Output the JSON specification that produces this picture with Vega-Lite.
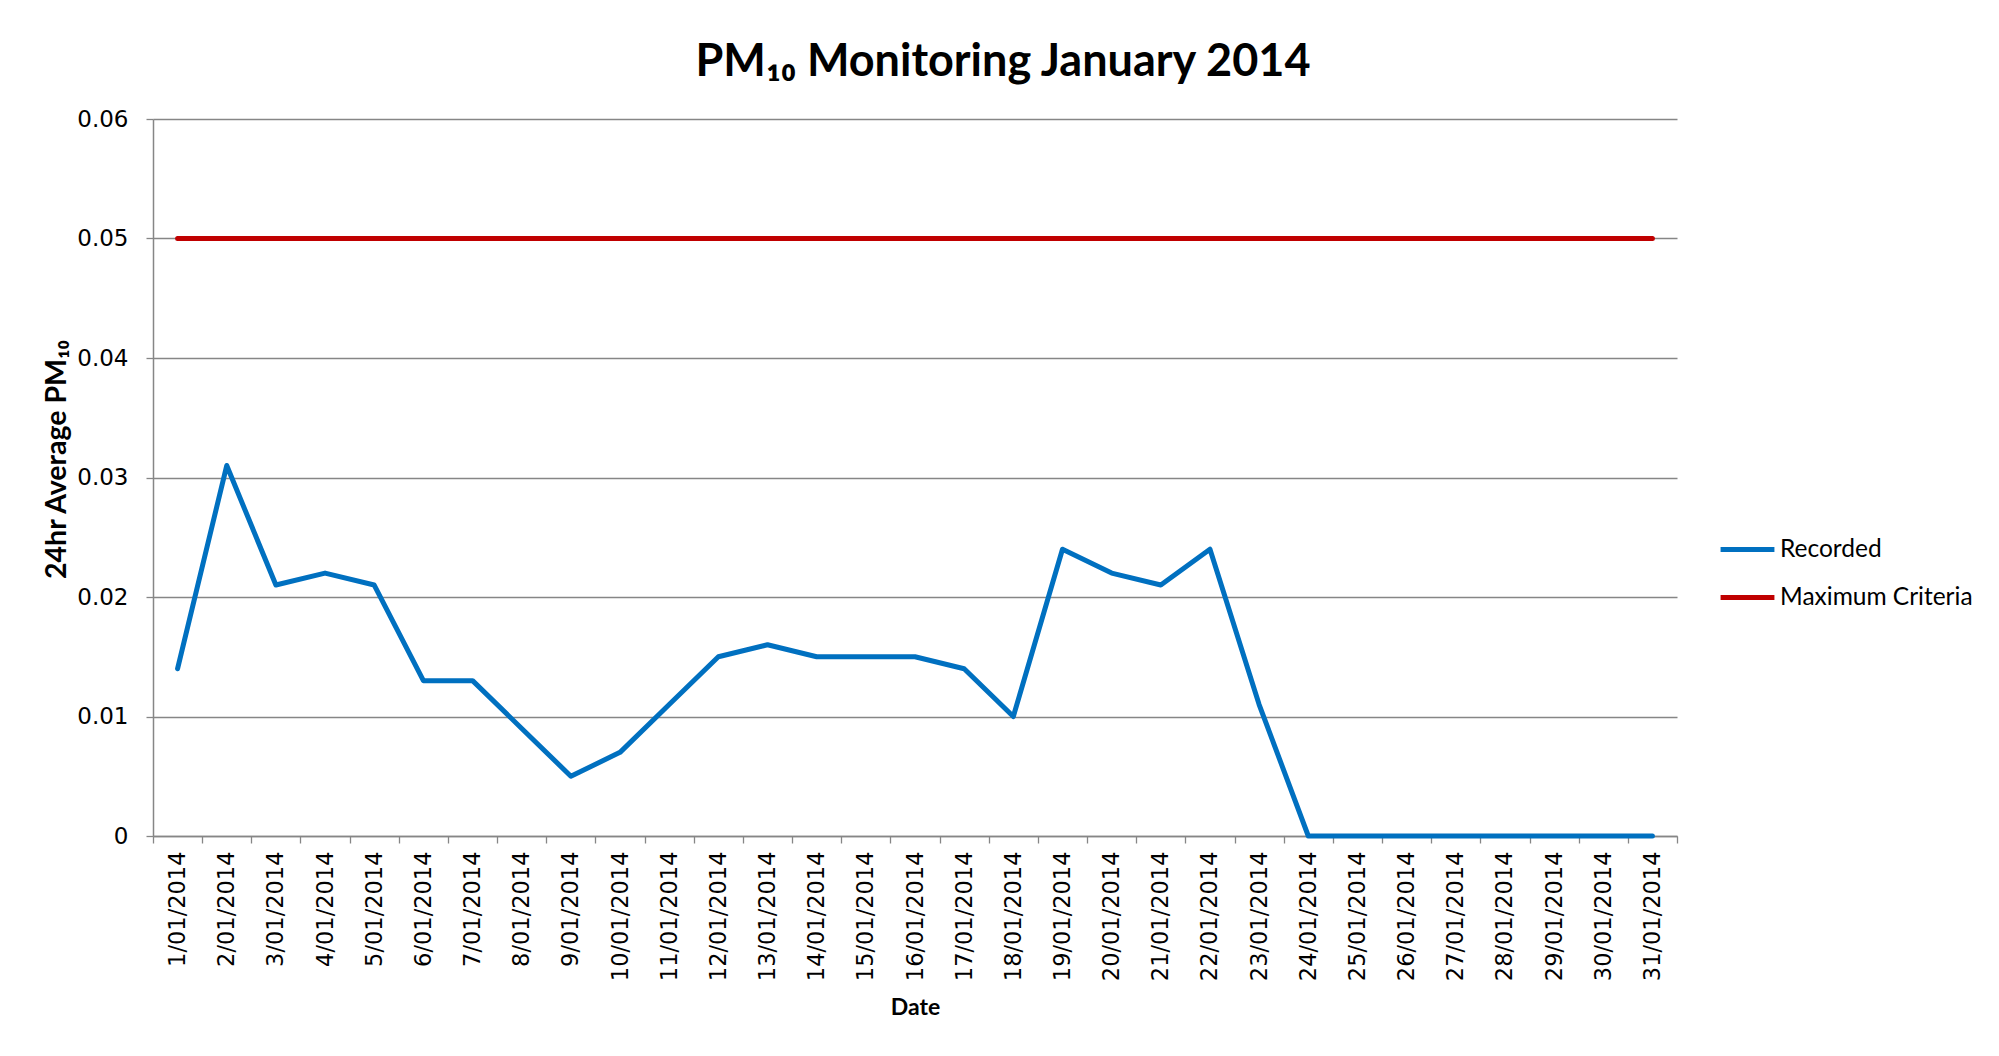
{
  "$schema": "https://vega.github.io/schema/vega-lite/v6.json",
  "width": 1524,
  "height": 717,
  "autosize": {"type": "none"},
  "padding": {"left": 153, "top": 119, "right": 322, "bottom": 220},
  "background": "white",
  "title": {
    "text": "PM₁₀ Monitoring January 2014",
    "font": "Lato",
    "fontSize": 45,
    "fontWeight": "bold",
    "color": "#000000",
    "anchor": "middle",
    "dx": 88,
    "offset": 23
  },
  "data": {
    "values": [
      {"date": "1/01/2014", "series": "Recorded", "value": 0.014},
      {"date": "2/01/2014", "series": "Recorded", "value": 0.031},
      {"date": "3/01/2014", "series": "Recorded", "value": 0.021},
      {"date": "4/01/2014", "series": "Recorded", "value": 0.022},
      {"date": "5/01/2014", "series": "Recorded", "value": 0.021},
      {"date": "6/01/2014", "series": "Recorded", "value": 0.013},
      {"date": "7/01/2014", "series": "Recorded", "value": 0.013},
      {"date": "8/01/2014", "series": "Recorded", "value": 0.009},
      {"date": "9/01/2014", "series": "Recorded", "value": 0.005},
      {"date": "10/01/2014", "series": "Recorded", "value": 0.007},
      {"date": "11/01/2014", "series": "Recorded", "value": 0.011},
      {"date": "12/01/2014", "series": "Recorded", "value": 0.015},
      {"date": "13/01/2014", "series": "Recorded", "value": 0.016},
      {"date": "14/01/2014", "series": "Recorded", "value": 0.015},
      {"date": "15/01/2014", "series": "Recorded", "value": 0.015},
      {"date": "16/01/2014", "series": "Recorded", "value": 0.015},
      {"date": "17/01/2014", "series": "Recorded", "value": 0.014},
      {"date": "18/01/2014", "series": "Recorded", "value": 0.010},
      {"date": "19/01/2014", "series": "Recorded", "value": 0.024},
      {"date": "20/01/2014", "series": "Recorded", "value": 0.022},
      {"date": "21/01/2014", "series": "Recorded", "value": 0.021},
      {"date": "22/01/2014", "series": "Recorded", "value": 0.024},
      {"date": "23/01/2014", "series": "Recorded", "value": 0.011},
      {"date": "24/01/2014", "series": "Recorded", "value": 0},
      {"date": "25/01/2014", "series": "Recorded", "value": 0},
      {"date": "26/01/2014", "series": "Recorded", "value": 0},
      {"date": "27/01/2014", "series": "Recorded", "value": 0},
      {"date": "28/01/2014", "series": "Recorded", "value": 0},
      {"date": "29/01/2014", "series": "Recorded", "value": 0},
      {"date": "30/01/2014", "series": "Recorded", "value": 0},
      {"date": "31/01/2014", "series": "Recorded", "value": 0},
      {"date": "1/01/2014", "series": "Maximum Criteria", "value": 0.05},
      {"date": "2/01/2014", "series": "Maximum Criteria", "value": 0.05},
      {"date": "3/01/2014", "series": "Maximum Criteria", "value": 0.05},
      {"date": "4/01/2014", "series": "Maximum Criteria", "value": 0.05},
      {"date": "5/01/2014", "series": "Maximum Criteria", "value": 0.05},
      {"date": "6/01/2014", "series": "Maximum Criteria", "value": 0.05},
      {"date": "7/01/2014", "series": "Maximum Criteria", "value": 0.05},
      {"date": "8/01/2014", "series": "Maximum Criteria", "value": 0.05},
      {"date": "9/01/2014", "series": "Maximum Criteria", "value": 0.05},
      {"date": "10/01/2014", "series": "Maximum Criteria", "value": 0.05},
      {"date": "11/01/2014", "series": "Maximum Criteria", "value": 0.05},
      {"date": "12/01/2014", "series": "Maximum Criteria", "value": 0.05},
      {"date": "13/01/2014", "series": "Maximum Criteria", "value": 0.05},
      {"date": "14/01/2014", "series": "Maximum Criteria", "value": 0.05},
      {"date": "15/01/2014", "series": "Maximum Criteria", "value": 0.05},
      {"date": "16/01/2014", "series": "Maximum Criteria", "value": 0.05},
      {"date": "17/01/2014", "series": "Maximum Criteria", "value": 0.05},
      {"date": "18/01/2014", "series": "Maximum Criteria", "value": 0.05},
      {"date": "19/01/2014", "series": "Maximum Criteria", "value": 0.05},
      {"date": "20/01/2014", "series": "Maximum Criteria", "value": 0.05},
      {"date": "21/01/2014", "series": "Maximum Criteria", "value": 0.05},
      {"date": "22/01/2014", "series": "Maximum Criteria", "value": 0.05},
      {"date": "23/01/2014", "series": "Maximum Criteria", "value": 0.05},
      {"date": "24/01/2014", "series": "Maximum Criteria", "value": 0.05},
      {"date": "25/01/2014", "series": "Maximum Criteria", "value": 0.05},
      {"date": "26/01/2014", "series": "Maximum Criteria", "value": 0.05},
      {"date": "27/01/2014", "series": "Maximum Criteria", "value": 0.05},
      {"date": "28/01/2014", "series": "Maximum Criteria", "value": 0.05},
      {"date": "29/01/2014", "series": "Maximum Criteria", "value": 0.05},
      {"date": "30/01/2014", "series": "Maximum Criteria", "value": 0.05},
      {"date": "31/01/2014", "series": "Maximum Criteria", "value": 0.05}
    ]
  },
  "mark": {"type": "line", "strokeWidth": 5, "strokeCap": "round", "strokeJoin": "round"},
  "encoding": {
    "x": {
      "field": "date",
      "type": "ordinal",
      "sort": null,
      "bandPosition": 0.5,
      "scale": {"type": "band", "paddingInner": 0, "paddingOuter": 0},
      "axis": {
        "title": "Date",
        "titleFont": "Lato",
        "titleFontSize": 23,
        "titleFontWeight": "bold",
        "titleColor": "#000000",
        "titlePadding": 16,
        "labelAngle": -90,
        "labelAlign": "right",
        "labelBaseline": "middle",
        "labelFont": "DejaVu Sans",
        "labelFontSize": 22.5,
        "labelColor": "#000000",
        "labelPadding": 8,
        "tickBand": "extent",
        "tickColor": "#868686",
        "tickSize": 7,
        "tickWidth": 1.3,
        "domainColor": "#868686",
        "domainWidth": 1.5,
        "grid": false
      }
    },
    "y": {
      "field": "value",
      "type": "quantitative",
      "scale": {"domain": [0, 0.06], "nice": false, "zero": true},
      "axis": {
        "values": [0, 0.01, 0.02, 0.03, 0.04, 0.05, 0.06],
        "format": ".2~f",
        "title": "24hr Average PM₁₀",
        "titleFont": "Lato",
        "titleFontSize": 28.5,
        "titleFontWeight": "bold",
        "titleColor": "#000000",
        "titlePadding": 5,
        "titleY": 340,
        "labelFont": "DejaVu Sans",
        "labelFontSize": 23,
        "labelColor": "#000000",
        "labelPadding": 18,
        "tickColor": "#868686",
        "tickSize": 7,
        "tickWidth": 1.3,
        "domainColor": "#868686",
        "domainWidth": 1.5,
        "grid": true,
        "gridColor": "#868686",
        "gridWidth": 1.3
      }
    },
    "color": {
      "field": "series",
      "type": "nominal",
      "scale": {"domain": ["Recorded", "Maximum Criteria"], "range": ["#0070C0", "#C00000"]},
      "legend": {
        "title": null,
        "orient": "none",
        "legendX": 1565,
        "legendY": 401,
        "symbolType": "stroke",
        "symbolSize": 2900,
        "symbolStrokeWidth": 5,
        "labelFont": "Lato",
        "labelFontSize": 24.5,
        "labelColor": "#000000",
        "labelOffset": 3,
        "labelLimit": 0,
        "rowPadding": 7
      }
    }
  },
  "config": {
    "view": {"stroke": null}
  }
}
